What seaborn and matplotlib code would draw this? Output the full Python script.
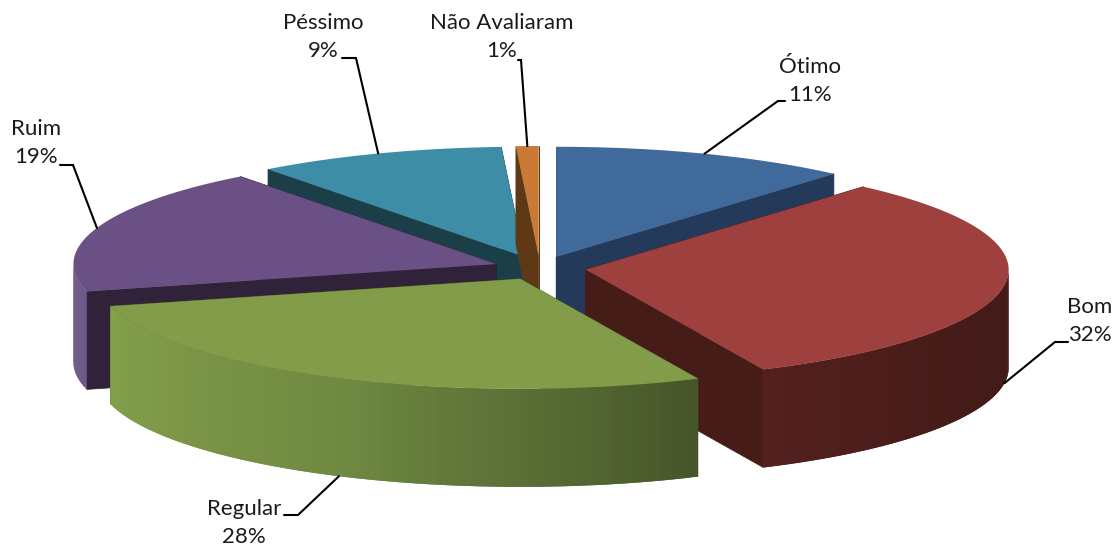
import numpy as np
import seaborn as sns
import matplotlib.pyplot as plt

# Pie values, clockwise from the top (labels show them rounded)
categories = ['Ótimo', 'Bom', 'Regular', 'Ruim', 'Péssimo', 'Não Avaliaram']
shares = [11.4, 31.7, 27.9, 18.65, 9.49, 0.86]

top_colors = ['#416a9c', '#9d403e', '#829c4a', '#6b5085', '#3e8da6', '#c97a37']
wall_colors = ['#243a5b', '#461c18', '#4a5a2a', '#2f2239', '#1b3f49', '#5f3916']
side_left = ['#243a5b', '#53201e', '#85a04a', '#654d80', '#1b3f49', '#5f3916']
side_mid = ['#243a5b', '#461c19', '#708a42', '#654d80', '#1b3f49', '#5f3916']
side_right = ['#243a5b', '#411a17', '#47562a', '#654d80', '#1b3f49', '#5f3916']

# painter's order, back slices first
draw_order = [0, 4, 5, 3, 1, 2]

# elbow and text position of each label, in pixels
elbows = [[(778, 101), (785, 101)], [(1055, 342), (1068, 342)], [(298, 515), (284, 515)],
          [(73, 165), (60, 165)], [(356, 58), (342, 58)], [(521, 60), (518, 60)]]
label_pos = [(810, 81), (1090, 321), (244, 523), (36, 143), (323, 37), (502, 37)]

cx, cy = 540, 268
rx, ry = 423, 110
explode = 0.109
depth = 98


def rim(t, ox, oy):
    return ox + rx * np.sin(t), oy - ry * np.cos(t)


sns.set_theme(style='white')
plt.rcParams['font.family'] = ['Lato', 'DejaVu Sans']

fig = plt.figure(figsize=(11.16, 5.48), dpi=100)
ax = fig.add_axes([0, 0, 1, 1])
ax.set_xlim(0, 1116)
ax.set_ylim(548, 0)
ax.axis('off')

edges = np.cumsum([0] + shares) / sum(shares) * 2 * np.pi
mids = (edges[:-1] + edges[1:]) / 2
apex_x = cx + rx * explode * np.sin(mids)
apex_y = cy - ry * explode * np.cos(mids)

for z, i in enumerate(draw_order):
    t0, t1 = edges[i], edges[i + 1]
    ox, oy = apex_x[i], apex_y[i]
    zbase = 2 + z * 3

    # the two cut walls
    for t in (t0, t1):
        ex, ey = rim(t, ox, oy)
        ax.fill([ox, ex, ex, ox], [oy, ey, ey + depth, oy + depth], color=wall_colors[i],
                lw=0.5, zorder=zbase)

    # outer wall, only the part facing the viewer
    a = max(t0, np.pi / 2)
    b = min(t1, 3 * np.pi / 2)
    if b > a:
        n = 90
        ts = np.linspace(a, b, n)
        xs, ys = rim(ts, ox, oy)
        ramp = sns.blend_palette([side_left[i], side_mid[i], side_right[i]], n)
        rank = np.empty(n, dtype=int)
        rank[np.argsort(xs)] = np.arange(n)
        # each band runs under the next one so no seams show
        for k in range(n - 1):
            e = min(k + 2, n - 1)
            ax.fill([xs[k], xs[k + 1], xs[e], xs[e], xs[k + 1], xs[k]],
                    [ys[k], ys[k + 1], ys[e], ys[e] + depth, ys[k + 1] + depth, ys[k] + depth],
                    color=ramp[rank[k]], lw=0, zorder=zbase + 1)

    # top face
    ts = np.linspace(t0, t1, 120)
    xs, ys = rim(ts, ox, oy)
    ax.fill(np.r_[ox, xs], np.r_[oy, ys], color=top_colors[i], lw=0, zorder=zbase + 2)

# labels with leader lines from the middle of each slice
for i, name in enumerate(categories):
    sx, sy = rim(mids[i], apex_x[i], apex_y[i])
    if np.cos(mids[i]) < 0 and 0 < mids[i] < 1.5 * np.pi:
        sy = sy + depth
    px = [float(sx)] + [p[0] for p in elbows[i]]
    py = [float(sy)] + [p[1] for p in elbows[i]]
    ax.plot(px, py, color='black', lw=1.5, zorder=40, solid_joinstyle='miter')
    ax.text(label_pos[i][0], label_pos[i][1], f'{name}\n{shares[i]:.0f}%', ha='center', va='center',
            fontsize=16, color='#1a1a1a', linespacing=1.5, zorder=41)

fig.savefig('out.png', dpi=100)
